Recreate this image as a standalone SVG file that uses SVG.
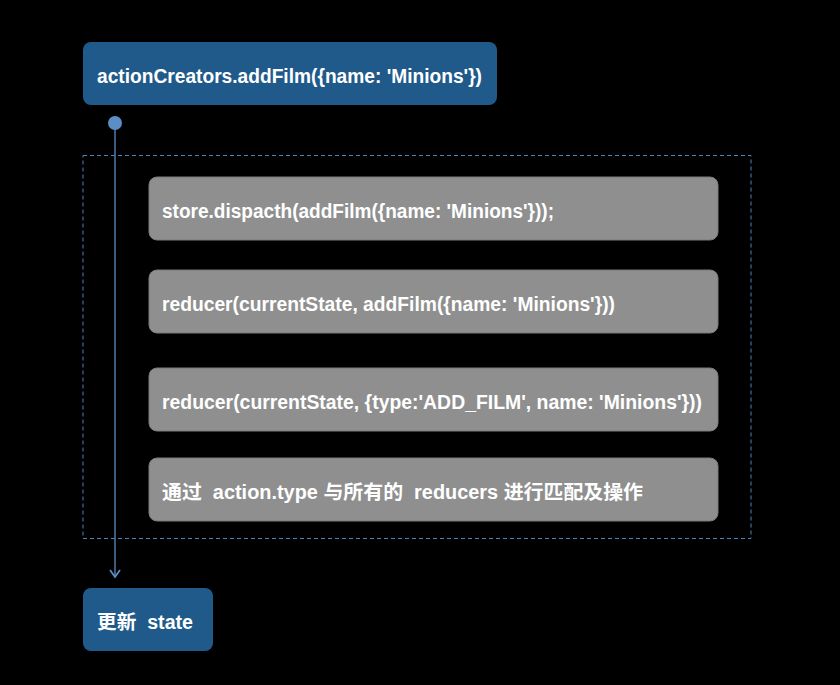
<svg xmlns="http://www.w3.org/2000/svg" width="840" height="685" viewBox="0 0 840 685">
<style>
.bg{fill:#000}
.blue{fill:#1f5a8a}
.gray{fill:#8f8f8f;stroke:#7a7a7a;stroke-width:1}
.t{font-family:"Liberation Sans","Noto Sans CJK SC",Arial,sans-serif;font-size:19.5px;font-weight:bold;fill:#fff;white-space:pre}
.edge{stroke:#5b8ec4;stroke-width:1.3;fill:none}
</style>
<defs>
<marker id="arr" viewBox="0 0 12 12" refX="10" refY="6" markerWidth="12" markerHeight="12" markerUnits="userSpaceOnUse" orient="auto">
<path d="M3,1 L10,6 L3,11" fill="none" stroke="#5b8ec4" stroke-width="1.8"/>
</marker>
</defs>
<rect class="bg" x="0" y="0" width="840" height="685"/>
<g id="group">
<rect x="83" y="155.5" width="668" height="383" fill="none" stroke="#4f82b8" stroke-width="1" stroke-dasharray="4,3"/>
</g>
<g id="connectors">
<line class="edge" x1="115" y1="123" x2="115" y2="577" marker-end="url(#arr)"/>
<circle cx="115" cy="123" r="7" fill="#5b8ec4"/>
</g>
<g id="n1">
<rect class="blue" x="83" y="42" width="414" height="63" rx="8"/>
<text class="t" x="97" y="83" textLength="385" lengthAdjust="spacingAndGlyphs">actionCreators.addFilm({name: 'Minions'})</text>
</g>
<g id="n2">
<rect class="gray" x="149" y="177" width="569" height="63" rx="8"/>
<text class="t" x="162" y="218" textLength="392" lengthAdjust="spacingAndGlyphs">store.dispacth(addFilm({name: 'Minions'}));</text>
</g>
<g id="n3">
<rect class="gray" x="149" y="270" width="569" height="63" rx="8"/>
<text class="t" x="162" y="311" textLength="453" lengthAdjust="spacingAndGlyphs">reducer(currentState, addFilm({name: 'Minions'}))</text>
</g>
<g id="n4">
<rect class="gray" x="149" y="368" width="569" height="63" rx="8"/>
<text class="t" x="162" y="409" textLength="540" lengthAdjust="spacingAndGlyphs">reducer(currentState, {type:'ADD_FILM', name: 'Minions'}))</text>
</g>
<g id="n5">
<rect class="gray" x="149" y="458" width="569" height="63" rx="8"/>
<text class="t" x="162" y="499" textLength="481" lengthAdjust="spacingAndGlyphs" xml:space="preserve">通过  action.type 与所有的  reducers 进行匹配及操作</text>
</g>
<g id="n6">
<rect class="blue" x="83" y="588" width="130" height="63" rx="8"/>
<text class="t" x="97" y="629" textLength="96" lengthAdjust="spacingAndGlyphs" xml:space="preserve">更新  state</text>
</g>
</svg>
